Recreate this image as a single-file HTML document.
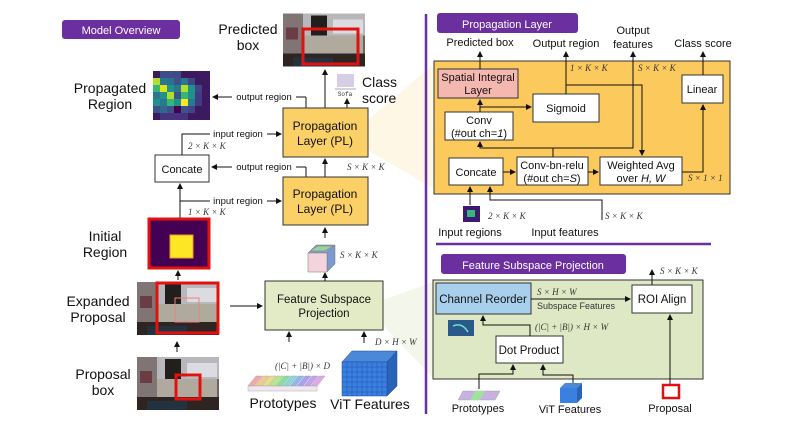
<!DOCTYPE html>
<html><head><meta charset="utf-8"><style>
html,body{margin:0;padding:0;background:#fff;}
svg{display:block;font-family:"Liberation Sans",sans-serif;}
.m{font-family:"Liberation Serif",serif;font-style:italic;font-size:9px;fill:#333;}
</style></head><body>
<svg width="800" height="437" viewBox="0 0 800 437" xmlns="http://www.w3.org/2000/svg">
<defs>
<marker id="a" markerWidth="6" markerHeight="6" refX="5" refY="3" orient="auto" markerUnits="userSpaceOnUse"><path d="M0,0 L6,3 L0,6 z" fill="#111"/></marker>
<symbol id="ph" viewBox="0 0 82 53">
<rect width="82" height="53" fill="#6a6460"/>
<rect x="0" y="0" width="82" height="22" fill="#b8b8bc"/>
<rect x="0" y="0" width="20" height="40" fill="#807474"/>
<rect x="3" y="14" width="12" height="12" fill="#6a3d45"/>
<rect x="28" y="2" width="16" height="26" fill="#221e1c"/>
<rect x="50" y="6" width="30" height="14" fill="#dcdce0"/>
<rect x="20" y="22" width="60" height="18" fill="#b0aa9e"/>
<rect x="0" y="40" width="82" height="13" fill="#2e2422"/>
<rect x="10" y="44" width="40" height="9" fill="#22323e"/>
</symbol>
</defs>

<polygon points="368,120 436,62 436,190 368,150" fill="#fdf3dc" opacity="0.7"/>
<polygon points="383,300 433,282 433,378 383,325" fill="#eef3e2" opacity="0.7"/>

<rect x="62" y="20" width="118" height="19" rx="3" fill="#6b2fa0"/>
<text x="121" y="34" font-size="11" fill="#fff" text-anchor="middle">Model Overview</text>

<text x="248" y="34" font-size="14" text-anchor="middle" fill="#111">Predicted</text>
<text x="248" y="50" font-size="14" text-anchor="middle" fill="#111">box</text>
<svg x="283" y="13" width="82" height="54"><use href="#ph"/></svg>
<rect x="303" y="29" width="55" height="35" fill="none" stroke="#e31010" stroke-width="3"/>

<text x="110" y="93" font-size="14" text-anchor="middle" fill="#111">Propagated</text>
<text x="110" y="109" font-size="14" text-anchor="middle" fill="#111">Region</text>
<g>
<rect x="153" y="71" width="57" height="49" fill="#3b1a60"/>
<rect x="160" y="71" width="21" height="7" fill="#3e4a8a"/>
<rect x="153" y="78" width="7" height="7" fill="#b5de2b"/><rect x="160" y="78" width="7" height="7" fill="#2a788e"/><rect x="167" y="78" width="7" height="7" fill="#2c728e"/><rect x="174" y="78" width="7" height="7" fill="#3b528b"/><rect x="181" y="78" width="7" height="7" fill="#2a788e"/><rect x="188" y="78" width="7" height="7" fill="#414487"/>
<rect x="153" y="85" width="7" height="7" fill="#35b779"/><rect x="160" y="85" width="7" height="7" fill="#dde318"/><rect x="167" y="85" width="7" height="7" fill="#21918c"/><rect x="174" y="85" width="7" height="7" fill="#2a788e"/><rect x="181" y="85" width="7" height="7" fill="#b5de2b"/><rect x="188" y="85" width="7" height="7" fill="#21918c"/><rect x="195" y="85" width="7" height="7" fill="#414487"/>
<rect x="153" y="92" width="7" height="7" fill="#2a788e"/><rect x="160" y="92" width="7" height="7" fill="#21918c"/><rect x="167" y="92" width="7" height="7" fill="#b5de2b"/><rect x="174" y="92" width="7" height="7" fill="#3b528b"/><rect x="181" y="92" width="7" height="7" fill="#35b779"/><rect x="188" y="92" width="7" height="7" fill="#21918c"/><rect x="195" y="92" width="7" height="7" fill="#443983"/>
<rect x="153" y="99" width="7" height="7" fill="#21918c"/><rect x="160" y="99" width="7" height="7" fill="#2a788e"/><rect x="167" y="99" width="7" height="7" fill="#35b779"/><rect x="174" y="99" width="7" height="7" fill="#21918c"/><rect x="181" y="99" width="7" height="7" fill="#fde725"/><rect x="188" y="99" width="7" height="7" fill="#2a788e"/><rect x="195" y="99" width="7" height="7" fill="#443983"/>
<rect x="153" y="106" width="7" height="7" fill="#3b528b"/><rect x="160" y="106" width="7" height="7" fill="#31688e"/><rect x="167" y="106" width="7" height="7" fill="#3b528b"/><rect x="174" y="106" width="7" height="7" fill="#440154"/><rect x="181" y="106" width="7" height="7" fill="#3b528b"/><rect x="188" y="106" width="7" height="7" fill="#414487"/>
<rect x="160" y="113" width="28" height="7" fill="#46327e"/>
</g>

<line x1="306" y1="108" x2="306" y2="97" stroke="#111"/>
<line x1="306" y1="97" x2="213" y2="97" stroke="#111" marker-end="url(#a)"/>
<rect x="232" y="91" width="64" height="11" fill="#fff"/>
<text x="264" y="100" font-size="9.5" text-anchor="middle" fill="#111">output region</text>

<rect x="337" y="74" width="17" height="13" fill="#d6cde6"/>
<line x1="335" y1="89" x2="356" y2="89" stroke="#555" stroke-width="0.6"/>
<text x="345" y="96" font-size="6" text-anchor="middle" fill="#333" font-family="Liberation Mono,monospace">Sofa</text>
<text x="362" y="87" font-size="14" fill="#111">Class</text>
<text x="362" y="103" font-size="14" fill="#111">score</text>
<line x1="347" y1="108" x2="347" y2="99" stroke="#111" marker-end="url(#a)"/>
<line x1="325" y1="108" x2="325" y2="70" stroke="#111" marker-end="url(#a)"/>

<rect x="283" y="108" width="85" height="49" fill="#fbd066" stroke="#333"/>
<text x="325" y="130" font-size="12" text-anchor="middle" fill="#111">Propagation</text>
<text x="325" y="145" font-size="12" text-anchor="middle" fill="#111">Layer (PL)</text>

<polyline points="182,155 182,134 281,134" fill="none" stroke="#111" marker-end="url(#a)"/>
<rect x="210" y="128" width="57" height="11" fill="#fff"/>
<text x="238" y="137" font-size="9.5" text-anchor="middle" fill="#111">input region</text>
<text x="188" y="149" class="m">2 × K × K</text>

<rect x="155" y="155" width="54" height="27" fill="#fff" stroke="#333"/>
<text x="182" y="173" font-size="11" text-anchor="middle" fill="#111">Concate</text>

<line x1="306" y1="177" x2="306" y2="167" stroke="#111"/>
<line x1="306" y1="167" x2="212" y2="167" stroke="#111" marker-end="url(#a)"/>
<rect x="232" y="161" width="64" height="11" fill="#fff"/>
<text x="264" y="170" font-size="9.5" text-anchor="middle" fill="#111">output region</text>
<line x1="325" y1="177" x2="325" y2="159" stroke="#111" marker-end="url(#a)"/>
<text x="347" y="170" class="m">S × K × K</text>

<rect x="283" y="177" width="85" height="48" fill="#fbd066" stroke="#333"/>
<text x="325" y="198" font-size="12" text-anchor="middle" fill="#111">Propagation</text>
<text x="325" y="213" font-size="12" text-anchor="middle" fill="#111">Layer (PL)</text>

<line x1="180" y1="218" x2="180" y2="184" stroke="#111" marker-end="url(#a)"/>
<line x1="180" y1="201" x2="281" y2="201" stroke="#111" marker-end="url(#a)"/>
<rect x="210" y="195" width="57" height="11" fill="#fff"/>
<text x="238" y="204" font-size="9.5" text-anchor="middle" fill="#111">input region</text>
<text x="188" y="215" class="m">1 × K × K</text>

<text x="105" y="241" font-size="14" text-anchor="middle" fill="#111">Initial</text>
<text x="105" y="257" font-size="14" text-anchor="middle" fill="#111">Region</text>
<rect x="149" y="219" width="60" height="49" fill="#440154" stroke="#e31010" stroke-width="3"/>
<rect x="170" y="235" width="23" height="23" fill="#fde725" stroke="#e8a020" stroke-width="1"/>
<line x1="178" y1="280" x2="178" y2="271" stroke="#111" marker-end="url(#a)"/>

<text x="98" y="306" font-size="14" text-anchor="middle" fill="#111">Expanded</text>
<text x="98" y="322" font-size="14" text-anchor="middle" fill="#111">Proposal</text>
<svg x="137" y="282" width="82" height="53"><use href="#ph"/></svg>
<rect x="157" y="283" width="61" height="50" fill="none" stroke="#e31010" stroke-width="3"/>
<rect x="175" y="298" width="24" height="24" fill="none" stroke="#f08080" stroke-width="1"/>
<line x1="230" y1="306" x2="262" y2="306" stroke="#111" marker-end="url(#a)"/>
<line x1="177" y1="352" x2="177" y2="342" stroke="#111" marker-end="url(#a)"/>

<text x="103" y="379" font-size="14" text-anchor="middle" fill="#111">Proposal</text>
<text x="103" y="395" font-size="14" text-anchor="middle" fill="#111">box</text>
<svg x="137" y="357" width="82" height="53"><use href="#ph"/></svg>
<rect x="176" y="375" width="24" height="24" fill="none" stroke="#e31010" stroke-width="3"/>

<rect x="265" y="281" width="118" height="49" fill="#e2ebc6" stroke="#333"/>
<text x="324" y="303" font-size="11.5" text-anchor="middle" fill="#111">Feature Subspace</text>
<text x="324" y="317" font-size="11.5" text-anchor="middle" fill="#111">Projection</text>
<line x1="325" y1="281" x2="325" y2="273" stroke="#111" marker-end="url(#a)"/>
<line x1="325" y1="238" x2="325" y2="228" stroke="#111" marker-end="url(#a)"/>
<g stroke="#777" stroke-width="0.5">
<polygon points="308,253 316,245 335,245 327,253" fill="#8aa0d8"/>
<polygon points="327,253 335,245 335,264 327,272" fill="#7a9ad0"/>
<rect x="308" y="253" width="19" height="19" fill="#f4d4dc"/>
<polygon points="310,251 318,246 333,246 325,251" fill="#9bd49b"/>
</g>
<text x="340" y="258" class="m">S × K × K</text>

<line x1="289" y1="342" x2="289" y2="332" stroke="#111" marker-end="url(#a)"/>
<text x="275" y="369" class="m">(|C| + |B|) × D</text>
<g stroke="#999" stroke-width="0.4">
<polygon points="248,386 256,376 262,376 254,386" fill="#f4a8a8"/>
<polygon points="255,386 263,376 269,376 261,386" fill="#f4c890"/>
<polygon points="262,386 270,376 276,376 268,386" fill="#e8e080"/>
<polygon points="269,386 277,376 283,376 275,386" fill="#b8e888"/>
<polygon points="276,386 284,376 290,376 282,386" fill="#88e0a0"/>
<polygon points="283,386 291,376 297,376 289,386" fill="#88d8d8"/>
<polygon points="290,386 298,376 304,376 296,386" fill="#90b8f0"/>
<polygon points="297,386 305,376 311,376 303,386" fill="#a8a0f0"/>
<polygon points="304,386 312,376 318,376 310,386" fill="#c8a0f0"/>
<polygon points="311,386 319,376 325,376 317,386" fill="#e0a8e8"/>
<rect x="248" y="386" width="69" height="5" fill="#f0e8f0"/>
</g>
<text x="283" y="408" font-size="14" text-anchor="middle" fill="#111">Prototypes</text>

<line x1="364" y1="343" x2="364" y2="332" stroke="#111" marker-end="url(#a)"/>
<text x="375" y="345" class="m">D × H × W</text>
<polygon points="342,362 352,351 397,351 387,362" fill="#4a88d8" stroke="#1a4a9a" stroke-width="0.5"/>
<polygon points="387,362 397,351 397,386 387,396" fill="#2a64b8" stroke="#1a4a9a" stroke-width="0.5"/>
<rect x="342" y="362" width="45" height="34" fill="#3a80e0" stroke="#1a4a9a" stroke-width="0.5"/>
<g stroke="#1a4aa0" stroke-width="0.4">
<line x1="347" y1="362" x2="347" y2="396"/><line x1="352" y1="362" x2="352" y2="396"/><line x1="357" y1="362" x2="357" y2="396"/><line x1="362" y1="362" x2="362" y2="396"/><line x1="367" y1="362" x2="367" y2="396"/><line x1="372" y1="362" x2="372" y2="396"/><line x1="377" y1="362" x2="377" y2="396"/><line x1="382" y1="362" x2="382" y2="396"/>
<line x1="342" y1="367" x2="387" y2="367"/><line x1="342" y1="372" x2="387" y2="372"/><line x1="342" y1="377" x2="387" y2="377"/><line x1="342" y1="382" x2="387" y2="382"/><line x1="342" y1="387" x2="387" y2="387"/><line x1="342" y1="392" x2="387" y2="392"/>
</g>
<text x="370" y="409" font-size="14" text-anchor="middle" fill="#111">ViT Features</text>

<line x1="426" y1="14" x2="426" y2="414" stroke="#6b2fa0" stroke-width="2.5"/>
<line x1="436" y1="244" x2="711" y2="244" stroke="#6b2fa0" stroke-width="2.5"/>

<rect x="437" y="13" width="141" height="20" rx="3" fill="#6b2fa0"/>
<text x="507" y="28" font-size="11" fill="#fff" text-anchor="middle">Propagation Layer</text>
<text x="480" y="46" font-size="11" text-anchor="middle" fill="#111">Predicted box</text>
<text x="566" y="47" font-size="11" text-anchor="middle" fill="#111">Output region</text>
<text x="633" y="34" font-size="11" text-anchor="middle" fill="#111">Output</text>
<text x="633" y="48" font-size="11" text-anchor="middle" fill="#111">features</text>
<text x="703" y="47" font-size="11" text-anchor="middle" fill="#111">Class score</text>

<rect x="434" y="61" width="296" height="133" fill="#fbc95c" stroke="#333"/>
<text x="570" y="71" class="m">1 × K × K</text>
<text x="638" y="71" class="m">S × K × K</text>
<text x="688" y="181" class="m">S × 1 × 1</text>

<rect x="438" y="69" width="80" height="29" fill="#f5b8b0" stroke="#333"/>
<text x="478" y="81" font-size="11" text-anchor="middle" fill="#111">Spatial Integral</text>
<text x="478" y="94" font-size="11" text-anchor="middle" fill="#111">Layer</text>
<rect x="445" y="112" width="68" height="28" fill="#fff" stroke="#333"/>
<text x="479" y="124" font-size="11" text-anchor="middle" fill="#111">Conv</text>
<text x="479" y="137" font-size="11" text-anchor="middle" fill="#111">(#out ch=<tspan font-style="italic">1</tspan>)</text>
<rect x="533" y="94" width="66" height="28" fill="#fff" stroke="#333"/>
<text x="566" y="112" font-size="11" text-anchor="middle" fill="#111">Sigmoid</text>
<rect x="682" y="75" width="41" height="28" fill="#fff" stroke="#333"/>
<text x="702" y="93" font-size="11" text-anchor="middle" fill="#111">Linear</text>
<rect x="449" y="158" width="54" height="27" fill="#fff" stroke="#333"/>
<text x="476" y="176" font-size="11" text-anchor="middle" fill="#111">Concate</text>
<rect x="517" y="157" width="71" height="28" fill="#fff" stroke="#333"/>
<text x="552" y="169" font-size="11" text-anchor="middle" fill="#111">Conv-bn-relu</text>
<text x="552" y="182" font-size="11" text-anchor="middle" fill="#111">(#out ch=<tspan font-style="italic">S</tspan>)</text>
<rect x="600" y="157" width="82" height="28" fill="#fff" stroke="#333"/>
<text x="641" y="169" font-size="11" text-anchor="middle" fill="#111">Weighted Avg</text>
<text x="641" y="182" font-size="11" text-anchor="middle" fill="#111">over <tspan font-style="italic">H, W</tspan></text>

<g stroke="#111" fill="none">
<line x1="480" y1="69" x2="480" y2="52" marker-end="url(#a)"/>
<line x1="566" y1="94" x2="566" y2="52" marker-end="url(#a)"/>
<polyline points="553,157 553,148 633,148 633,52" marker-end="url(#a)"/>
<polyline points="553,148 480,148 480,142" marker-end="url(#a)"/>
<polyline points="566,85 642,85 642,155" marker-end="url(#a)"/>
<line x1="480" y1="112" x2="480" y2="100" marker-end="url(#a)"/>
<line x1="480" y1="107" x2="531" y2="107" marker-end="url(#a)"/>
<line x1="503" y1="172" x2="515" y2="172" marker-end="url(#a)"/>
<line x1="588" y1="172" x2="598" y2="172" marker-end="url(#a)"/>
<polyline points="682,172 703,172 703,105" marker-end="url(#a)"/>
<line x1="703" y1="75" x2="703" y2="52" marker-end="url(#a)"/>
<line x1="470" y1="205" x2="470" y2="187" marker-end="url(#a)"/>
<polyline points="602,220 602,200 490,200 490,187" marker-end="url(#a)"/>
</g>
<rect x="463" y="206" width="17" height="16" fill="#3b1a70"/>
<rect x="467" y="210" width="8" height="7" fill="#35b779"/>
<text x="488" y="219" class="m">2 × K × K</text>
<text x="470" y="236" font-size="11" text-anchor="middle" fill="#111">Input regions</text>
<text x="605" y="219" class="m">S × K × K</text>
<text x="565" y="236" font-size="11" text-anchor="middle" fill="#111">Input features</text>

<rect x="441" y="254" width="185" height="20" rx="3" fill="#6b2fa0"/>
<text x="533" y="269" font-size="11" fill="#fff" text-anchor="middle">Feature Subspace Projection</text>
<rect x="433" y="280" width="270" height="99" fill="#dfe8c4" stroke="#333"/>
<rect x="436" y="283" width="95" height="31" fill="#a8d0ec" stroke="#333"/>
<text x="483" y="303" font-size="11.5" text-anchor="middle" fill="#111">Channel Reorder</text>
<rect x="632" y="285" width="60" height="28" fill="#fff" stroke="#333"/>
<text x="662" y="303" font-size="11.5" text-anchor="middle" fill="#111">ROI Align</text>
<rect x="496" y="336" width="67" height="27" fill="#fff" stroke="#333"/>
<text x="529" y="354" font-size="11.5" text-anchor="middle" fill="#111">Dot Product</text>
<g stroke="#111" fill="none">
<line x1="531" y1="299" x2="630" y2="299" marker-end="url(#a)"/>
<line x1="652" y1="285" x2="652" y2="270" marker-end="url(#a)"/>
<polyline points="530,336 530,325 483,325 483,316" marker-end="url(#a)"/>
<polyline points="479,389 479,374 513,374 513,365" marker-end="url(#a)"/>
<polyline points="573,383 573,375 543,375 543,365" marker-end="url(#a)"/>
<line x1="670" y1="385" x2="670" y2="315" marker-end="url(#a)"/>
</g>
<text x="537" y="295" class="m">S × H × W</text>
<text x="537" y="309" font-size="9" fill="#333">Subspace Features</text>
<text x="660" y="274" class="m">S × K × K</text>
<text x="535" y="330" class="m">(|C| + |B|) × H × W</text>
<rect x="448" y="320" width="26" height="16" fill="#2a5a8a"/>
<path d="M453,326 Q462,322 468,332" stroke="#6ee0d0" stroke-width="1.5" fill="none"/>
<polygon points="458,400 463,391 500,391 495,400" fill="#c8b0e0" stroke="#999" stroke-width="0.4"/>
<polygon points="470,400 475,391 485,391 480,400" fill="#a0e0a0"/>
<text x="478" y="412" font-size="11" text-anchor="middle" fill="#111">Prototypes</text>
<polygon points="560,388 565,383 582,383 577,388" fill="#4a88d8"/>
<rect x="560" y="388" width="17" height="15" fill="#3a80e0"/>
<polygon points="577,388 582,383 582,398 577,403" fill="#2a64b8"/>
<text x="570" y="413" font-size="11" text-anchor="middle" fill="#111">ViT Features</text>
<rect x="663" y="385" width="16" height="13" fill="#fff" stroke="#e31010" stroke-width="2.5"/>
<text x="670" y="412" font-size="11" text-anchor="middle" fill="#111">Proposal</text>
</svg>
</body></html>
